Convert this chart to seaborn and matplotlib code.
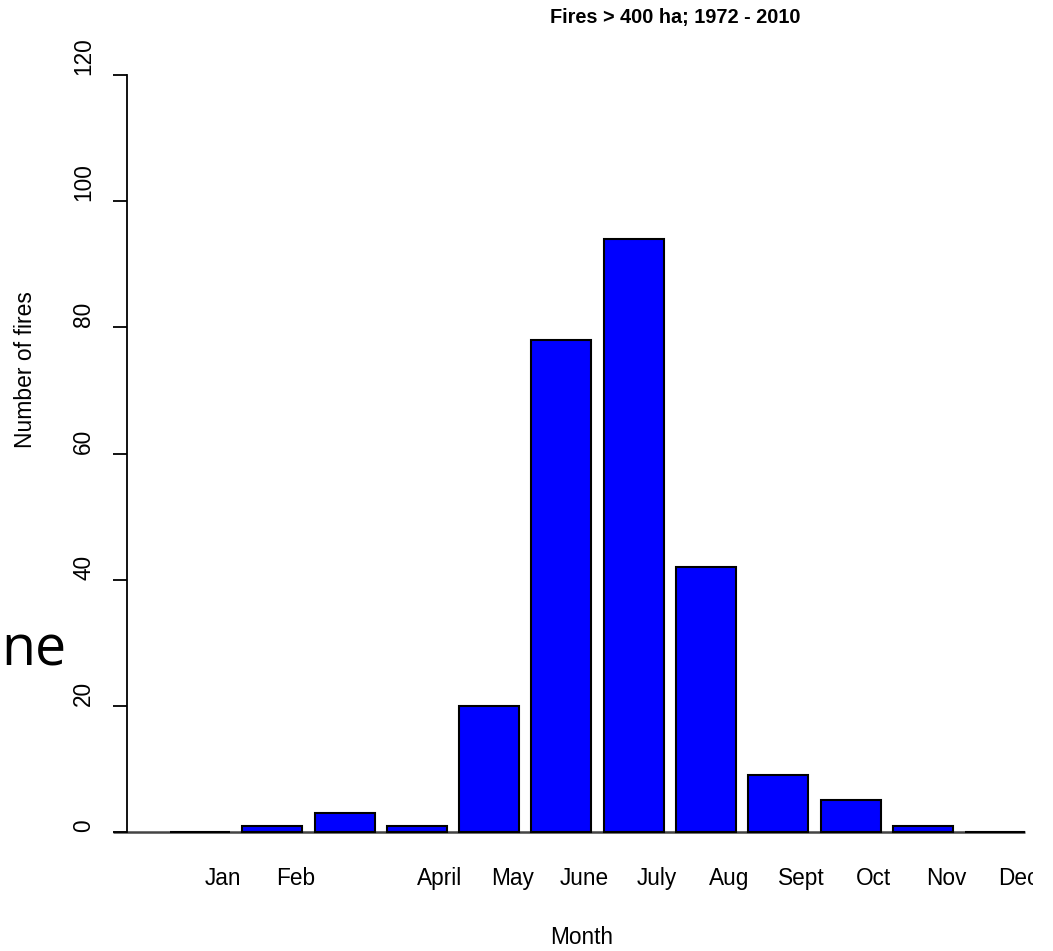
import numpy as np
import pandas as pd
import matplotlib
matplotlib.use("Agg")
import matplotlib.pyplot as plt
from matplotlib.patches import Rectangle
import seaborn as sns

# Monthly counts of large fires
months = ["Jan", "Feb", "Mar", "April", "May", "June", "July",
          "Aug", "Sept", "Oct", "Nov", "Dec"]
fires = [0, 1, 3, 1, 20, 78, 94, 42, 9, 5, 1, 0]
tick_labels = ["Jan", "Feb", "", "April", "May", "June", "July",
               "Aug", "Sept", "Oct", "Nov", "Dec"]
y_ticks = [0, 20, 40, 60, 80, 100, 120]

sns.set_style("white")
plt.rcParams["font.family"] = ["Liberation Sans", "DejaVu Sans"]
plt.rcParams["text.color"] = "black"
plt.rcParams["xtick.color"] = "black"
plt.rcParams["ytick.color"] = "black"
plt.rcParams["xtick.labelcolor"] = "black"
plt.rcParams["ytick.labelcolor"] = "black"

W, H = 1053, 951
fig = plt.figure(figsize=(W / 100, H / 100), dpi=100)
ax = fig.add_axes([127 / W, (H - 832) / H, (W - 127) / W, (832 - 75) / H])

df = pd.DataFrame({"month": months, "fires": fires})
sns.barplot(data=df, x="month", y="fires", order=months, color="#0000FF",
            saturation=1, width=0.83, edgecolor="black", linewidth=1.5,
            ax=ax)
for p in ax.patches:
    p.set_clip_on(False)

ax.set_xlim(-1.01, 11.80)
ax.set_ylim(0, 120)

# baseline under the bars
ax.hlines(0, -1.2, 11.415, color="#444444", lw=1.8, clip_on=False, zorder=0)

for s in ["top", "right", "bottom"]:
    ax.spines[s].set_visible(False)
ax.spines["left"].set_bounds(0, 120)
ax.spines["left"].set_linewidth(1.3)
ax.spines["left"].set_color("black")

ax.set_xticks(np.arange(len(months)) + 0.32)
ax.set_xticklabels(tick_labels, fontsize=16.3, color="black")
ax.tick_params(axis="x", length=0, pad=25)

ax.set_yticks(y_ticks)
ax.set_yticklabels([str(v) for v in y_ticks], fontsize=16.3, color="black")
ax.tick_params(axis="y", length=10, width=1.3, pad=13, direction="out",
               color="black", left=True)
for lab in ax.get_yticklabels():
    lab.set_rotation(90)
    lab.set_va("bottom")
    lab.set_ha("right")

ax.set_xlabel("")
ax.set_ylabel("")

fig.text(26 / W, 1 - 370 / H, "Number of fires", rotation=90,
         ha="center", va="center", fontsize=16.5, color="black")
fig.text(582 / W, 1 - 938 / H, "Month", ha="center", va="center",
         fontsize=16.3, color="black")
fig.text(675 / W, 1 - 17 / H, "Fires > 400 ha; 1972 - 2010", ha="center",
         va="center", fontsize=14.3, fontweight="bold", color="black")
fig.text(1 / W, 1 - 665 / H, "ne", ha="left", va="baseline",
         fontsize=40, family="Open Sans", color="black")

# right margin of the panel
fig.patches.append(Rectangle((1033 / W, 0), 1 - 1033 / W, 1,
                             transform=fig.transFigure, facecolor="white",
                             edgecolor="none", zorder=10))

fig.savefig("out.png", dpi=100)
